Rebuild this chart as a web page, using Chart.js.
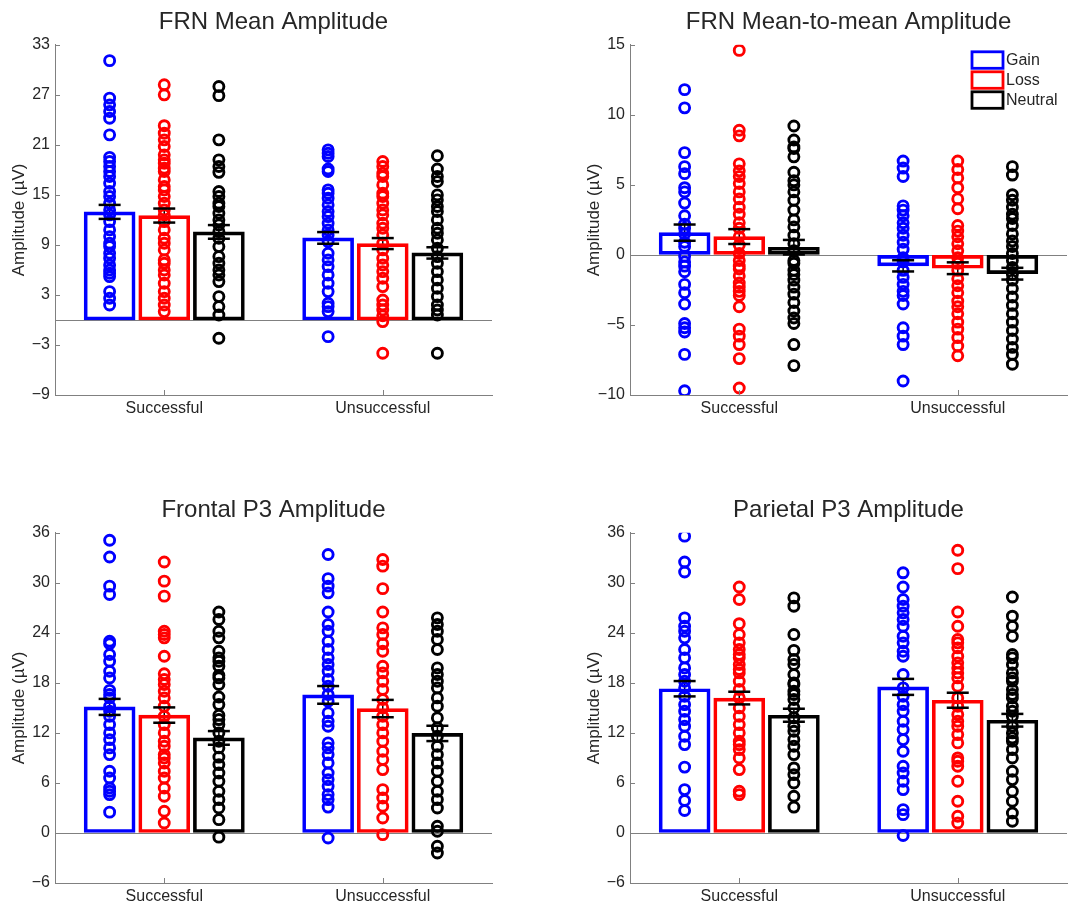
<!DOCTYPE html>
<html>
<head>
<meta charset="utf-8">
<title>FRN and P3 amplitudes</title>
<script src="https://cdn.jsdelivr.net/npm/chart.js@4.4.0/dist/chart.umd.min.js"></script>
<style>
  html, body { margin: 0; padding: 0; background: #fff; overflow: hidden; }
  #page { position: relative; width: 1077px; height: 906px; }
  #page canvas { position: absolute; }
</style>
</head>
<body>
<div id="page">
  <canvas id="frn-mean" width="500" height="418" style="left:0;top:0"></canvas>
  <canvas id="frn-m2m" width="500" height="418" style="left:575px;top:0"></canvas>
  <canvas id="p3-frontal" width="500" height="418" style="left:0;top:488px"></canvas>
  <canvas id="p3-parietal" width="500" height="418" style="left:575px;top:488px"></canvas>
</div>
<script>
"use strict";

var conditions = ['Successful', 'Unsuccessful'];
var outcomes = ['Gain', 'Loss', 'Neutral'];
var outcomeColors = ['#0000ff', '#ff0000', '#000000'];

// FRN mean amplitude: [outcome][condition]
var frnMeanTicks = [-9, -3, 3, 9, 15, 21, 27, 33];
var frnMeanAvg = [[12.96, 9.84], [12.52, 9.16], [10.56, 8.04]];
var frnMeanSem = [[0.84, 0.70], [0.84, 0.66], [0.82, 0.68]];
var frnMeanGain = [
    [31.1, 26.6, 25.8, 25.0, 24.2, 22.2, 19.5, 19.0, 18.4, 17.8, 17.2, 16.4, 15.4, 14.8, 14.0, 13.2, 12.6, 11.8, 10.8, 10.0, 9.2, 8.8, 8.0, 7.4, 6.6, 6.0, 5.6, 5.2, 3.4, 2.6, 1.8],
    [20.4, 20.0, 19.6, 18.1, 17.8, 15.6, 15.2, 14.6, 13.8, 13.0, 12.4, 11.6, 10.8, 10.2, 9.4, 8.0, 7.2, 6.4, 5.4, 4.4, 3.4, 2.0, 1.6, 1.0, -2.0]
];
var frnMeanLoss = [
    [28.2, 27.0, 23.3, 22.4, 21.6, 20.8, 19.8, 19.2, 18.8, 18.2, 17.8, 16.8, 16.0, 15.6, 14.8, 14.0, 13.2, 12.6, 11.8, 10.8, 9.8, 9.2, 8.4, 7.2, 6.8, 6.0, 5.4, 4.4, 3.4, 2.6, 1.8, 1.0],
    [19.0, 18.4, 17.6, 17.2, 16.2, 15.2, 14.8, 14.0, 13.2, 12.6, 11.6, 11.0, 10.2, 9.2, 8.4, 7.4, 6.6, 5.8, 5.0, 4.0, 2.4, 1.8, 1.2, 0.5, -0.2, -4.0]
];
var frnMeanNeutral = [
    [28.0, 26.9, 21.6, 19.2, 18.4, 17.7, 15.4, 14.8, 14.0, 13.6, 12.8, 12.0, 11.4, 10.6, 9.8, 8.8, 7.6, 6.8, 6.0, 5.4, 4.6, 2.8, 1.6, 0.6, -2.2],
    [19.7, 18.1, 17.2, 16.6, 15.0, 14.4, 13.6, 13.0, 12.0, 11.0, 10.4, 9.6, 8.6, 7.6, 6.8, 5.8, 4.8, 3.8, 2.8, 1.8, 1.2, 0.6, -4.0]
];

// FRN mean-to-mean amplitude
var frnM2mTicks = [-10, -5, 0, 5, 10, 15];
var frnM2mAvg = [[1.59, -0.78], [1.31, -0.95], [0.55, -1.34]];
var frnM2mSem = [[0.58, 0.40], [0.53, 0.42], [0.52, 0.42]];
var frnM2mGain = [
    [11.8, 10.5, 7.3, 6.3, 5.8, 4.8, 4.5, 3.7, 2.8, 2.2, 1.9, 1.5, 0.9, 0.6, -0.1, -0.5, -0.8, -1.2, -2.1, -2.7, -3.5, -4.9, -5.2, -5.5, -7.1, -9.7],
    [6.7, 6.2, 5.6, 3.5, 3.2, 2.8, 2.3, 1.9, 1.4, 0.9, 0.4, -0.2, -0.5, -1.1, -1.6, -2.1, -2.6, -2.9, -3.5, -5.2, -5.8, -6.4, -9.0]
];
var frnM2mLoss = [
    [14.6, 8.9, 8.5, 6.5, 6.0, 5.6, 5.1, 4.5, 4.0, 3.4, 2.9, 2.3, 1.9, 1.3, 0.7, 0.1, -0.4, -0.8, -1.0, -1.5, -2.0, -2.3, -2.6, -2.9, -3.7, -5.3, -5.8, -6.4, -7.4, -9.5],
    [6.7, 6.1, 5.5, 4.8, 4.0, 3.3, 2.1, 1.7, 1.3, 0.8, 0.3, -0.2, -0.6, -1.1, -1.7, -2.2, -2.7, -3.3, -3.7, -4.2, -4.8, -5.3, -5.9, -6.5, -7.2]
];
var frnM2mNeutral = [
    [9.2, 8.2, 7.7, 7.6, 7.0, 5.9, 5.3, 5.0, 4.5, 3.9, 3.2, 2.5, 2.0, 1.4, 0.8, 0.3, -0.4, -0.6, -1.1, -1.4, -1.8, -2.3, -2.8, -3.4, -4.0, -4.5, -4.9, -6.4, -7.9],
    [6.3, 5.7, 4.3, 3.9, 3.4, 2.9, 2.6, 2.1, 1.5, 1.0, 0.6, 0.1, -0.4, -0.9, -1.4, -1.8, -2.4, -3.0, -3.6, -4.2, -4.8, -5.4, -6.0, -6.6, -7.1, -7.8]
];

// Frontal P3 amplitude
var frontalTicks = [-6, 0, 6, 12, 18, 24, 30, 36];
var frontalAvg = [[15.12, 16.56], [14.14, 14.92], [11.40, 11.94]];
var frontalSem = [[0.96, 1.06], [0.92, 1.04], [0.82, 0.92]];
var frontalGain = [
    [35.1, 33.1, 29.6, 28.6, 23.0, 22.7, 21.4, 20.6, 19.4, 18.6, 17.1, 16.6, 16.2, 15.2, 14.6, 14.0, 13.0, 12.0, 11.2, 10.2, 9.4, 7.4, 6.6, 5.4, 5.0, 4.6, 2.5],
    [33.4, 30.5, 29.6, 28.8, 26.5, 25.0, 24.2, 23.0, 22.0, 21.0, 20.2, 19.4, 18.4, 17.6, 16.6, 15.8, 14.4, 13.4, 12.8, 10.8, 10.2, 9.4, 8.4, 7.2, 6.4, 5.6, 4.6, 4.0, 3.1, -0.6]
];
var frontalLoss = [
    [32.5, 30.2, 28.4, 24.2, 23.8, 23.4, 21.2, 19.1, 18.4, 17.8, 17.0, 16.2, 15.2, 14.0, 13.0, 12.0, 11.0, 10.4, 9.4, 9.0, 8.4, 7.4, 6.6, 5.4, 4.4, 2.6, 1.2],
    [32.8, 32.0, 29.3, 26.5, 24.6, 23.8, 22.7, 21.8, 20.0, 19.2, 18.2, 17.2, 16.0, 15.0, 14.0, 13.0, 12.0, 11.0, 9.8, 8.8, 7.6, 5.2, 4.2, 3.2, 1.8, -0.2]
];
var frontalNeutral = [
    [26.5, 25.6, 24.2, 23.4, 21.8, 21.0, 20.6, 20.0, 18.9, 18.6, 17.8, 16.3, 15.4, 14.1, 13.6, 13.0, 12.0, 11.0, 10.2, 9.1, 8.2, 7.2, 6.2, 5.0, 4.0, 3.0, 1.6, -0.5],
    [25.8, 25.0, 24.2, 23.2, 22.0, 19.8, 19.0, 18.2, 17.4, 16.2, 15.2, 13.8, 12.6, 11.6, 10.4, 9.4, 8.4, 7.4, 6.2, 5.0, 4.0, 3.0, 0.8, 0.2, -1.6, -2.4]
];

// Parietal P3 amplitude
var parietalTicks = [-6, 0, 6, 12, 18, 24, 30, 36];
var parietalAvg = [[17.30, 17.52], [16.18, 15.92], [14.12, 13.52]];
var parietalSem = [[0.92, 0.96], [0.76, 0.90], [0.78, 0.76]];
var parietalGain = [
    [35.6, 32.5, 31.3, 25.8, 24.8, 24.2, 23.4, 22.0, 21.0, 19.8, 19.0, 18.2, 17.4, 16.4, 15.4, 14.6, 13.6, 12.8, 11.6, 10.6, 7.9, 5.2, 3.9, 2.7],
    [31.2, 29.5, 28.0, 27.2, 26.4, 25.6, 24.8, 23.6, 22.8, 21.8, 21.2, 19.0, 17.4, 16.4, 15.4, 14.6, 13.4, 12.4, 11.2, 9.8, 8.0, 7.2, 6.2, 5.2, 2.8, 2.2, -0.3]
];
var parietalLoss = [
    [29.5, 28.0, 25.1, 23.8, 22.8, 22.0, 21.4, 21.0, 20.2, 19.6, 19.2, 18.2, 17.2, 16.2, 15.0, 14.0, 13.0, 12.0, 11.0, 10.6, 10.0, 9.0, 7.6, 5.0, 4.6],
    [33.9, 31.7, 26.5, 24.8, 23.2, 22.8, 22.2, 21.2, 20.4, 19.8, 19.2, 18.6, 17.6, 16.2, 15.2, 14.2, 13.4, 12.8, 11.8, 10.8, 9.0, 8.6, 8.0, 6.2, 3.8, 2.0, 1.2]
];
var parietalNeutral = [
    [28.2, 27.2, 23.8, 21.9, 20.8, 20.2, 19.0, 18.0, 17.8, 17.0, 16.6, 16.0, 15.0, 13.8, 12.8, 12.2, 11.2, 10.4, 9.4, 7.8, 7.0, 6.0, 4.4, 3.1],
    [28.3, 26.0, 24.8, 23.6, 21.4, 21.0, 20.2, 19.2, 18.6, 18.2, 17.2, 16.6, 16.2, 15.2, 14.6, 14.0, 12.8, 12.0, 11.4, 11.0, 10.0, 9.0, 7.4, 6.4, 5.0, 3.8, 2.4, 1.4]
];


var fontFamily = "'Liberation Sans', Arial, Helvetica, sans-serif";
var textColor = '#262626';
var axisColor = '#808080';
var barOffset = [-0.25, 0, 0.25];   // bar position inside each condition group


// Zero line, error bar stems and caps
var errorBars = {
    id: 'errorBars',
    beforeDatasetsDraw: function (chart) {
        var ctx = chart.ctx, area = chart.chartArea;
        var x = chart.scales.x, y = chart.scales.y;
        ctx.save();
        ctx.strokeStyle = axisColor;
        ctx.lineWidth = 1;
        ctx.beginPath();
        ctx.moveTo(area.left, Math.round(y.getPixelForValue(0)) + 0.5);
        ctx.lineTo(area.right, Math.round(y.getPixelForValue(0)) + 0.5);
        ctx.stroke();

        ctx.strokeStyle = '#000';
        ctx.lineWidth = 1.5;
        chart.data.datasets.forEach(function (ds) {
            if (!ds.errors) return;
            ds.data.forEach(function (pt, i) {
                var px = x.getPixelForValue(pt.x);
                ctx.beginPath();
                ctx.moveTo(px, y.getPixelForValue(pt.y + ds.errors[i]));
                ctx.lineTo(px, y.getPixelForValue(pt.y - ds.errors[i]));
                ctx.stroke();
            });
        });
        ctx.restore();
    },
    afterDatasetsDraw: function (chart) {
        var ctx = chart.ctx;
        var x = chart.scales.x, y = chart.scales.y;
        ctx.save();
        ctx.strokeStyle = '#000';
        ctx.lineWidth = 2.5;
        chart.data.datasets.forEach(function (ds) {
            if (!ds.errors) return;
            ds.data.forEach(function (pt, i) {
                var px = x.getPixelForValue(pt.x);
                [pt.y + ds.errors[i], pt.y - ds.errors[i]].forEach(function (v) {
                    var py = y.getPixelForValue(v);
                    ctx.beginPath();
                    ctx.moveTo(px - 11, py);
                    ctx.lineTo(px + 11, py);
                    ctx.stroke();
                });
            });
        });
        ctx.restore();
    }
};


// Tick marks pointing into the axes
var innerTicks = {
    id: 'innerTicks',
    afterDraw: function (chart) {
        var ctx = chart.ctx, area = chart.chartArea;
        var x = chart.scales.x, y = chart.scales.y;
        ctx.save();
        ctx.strokeStyle = axisColor;
        ctx.lineWidth = 1;
        ctx.beginPath();
        y.ticks.forEach(function (t) {
            var py = Math.round(y.getPixelForValue(t.value)) + 0.5;
            ctx.moveTo(area.left, py);
            ctx.lineTo(area.left + 5, py);
        });
        x.ticks.forEach(function (t) {
            var px = Math.round(x.getPixelForValue(t.value)) + 0.5;
            ctx.moveTo(px, area.bottom);
            ctx.lineTo(px, area.bottom - 5);
        });
        ctx.stroke();
        ctx.restore();
    }
};


// Outline-box legend in the top right corner
var boxLegend = {
    id: 'boxLegend',
    afterDraw: function (chart, args, opts) {
        if (!opts.show) return;
        var ctx = chart.ctx, area = chart.chartArea;
        var left = area.right - 95, top = area.top + 7;
        ctx.save();
        ctx.lineWidth = 2.8;
        ctx.font = '16px ' + fontFamily;
        ctx.textBaseline = 'middle';
        ctx.fillStyle = textColor;
        outcomes.forEach(function (name, i) {
            ctx.strokeStyle = outcomeColors[i];
            ctx.strokeRect(left, top + i * 20, 31, 16.5);
            ctx.fillText(name, left + 34, top + i * 20 + 9);
        });
        ctx.restore();
    }
};


function makePanel(id, title, ticks, avg, sem, points, showLegend) {
    var datasets = [];

    // Group means as outlined bars
    outcomes.forEach(function (name, s) {
        datasets.push({
            type: 'bar',
            label: name,
            order: 2,
            grouped: false,
            barThickness: 51,
            borderWidth: 3,
            borderSkipped: false,
            borderColor: outcomeColors[s],
            backgroundColor: 'rgba(0,0,0,0)',
            errors: sem[s],
            data: conditions.map(function (c, g) {
                return {x: g + 1 + barOffset[s], y: avg[s][g]};
            })
        });
    });

    // Individual subjects on top of the bars
    outcomes.forEach(function (name, s) {
        var pts = [];
        conditions.forEach(function (c, g) {
            points[s][g].forEach(function (v) {
                pts.push({x: g + 1 + barOffset[s], y: v});
            });
        });
        datasets.push({
            type: 'scatter',
            label: name + ' subjects',
            order: 1,
            data: pts,
            pointRadius: 5,
            pointHoverRadius: 5,
            pointBorderWidth: 2.9,
            borderColor: outcomeColors[s],
            pointBackgroundColor: 'rgba(0,0,0,0)'
        });
    });

    return new Chart(document.getElementById(id), {
        type: 'scatter',
        data: {datasets: datasets},
        plugins: [errorBars, innerTicks, boxLegend],
        options: {
            responsive: false,
            animation: false,
            events: [],
            layout: {padding: {left: 0, right: 8, top: 0, bottom: 0}},
            plugins: {
                legend: {display: false},
                tooltip: {enabled: false},
                boxLegend: {show: showLegend},
                title: {
                    display: true,
                    text: title,
                    fullSize: false,
                    color: textColor,
                    font: {family: fontFamily, size: 24, weight: 'normal'},
                    padding: {top: 8, bottom: 8}
                }
            },
            scales: {
                x: {
                    type: 'linear',
                    min: 0.5,
                    max: 2.5,
                    offset: false,
                    afterFit: function (scale) { scale.height = 23; },
                    afterBuildTicks: function (scale) {
                        scale.ticks = conditions.map(function (c, g) { return {value: g + 1}; });
                    },
                    grid: {drawOnChartArea: false, drawTicks: false},
                    border: {display: true, color: axisColor, width: 1},
                    ticks: {
                        autoSkip: false,
                        maxRotation: 0,
                        padding: 4,
                        color: textColor,
                        font: {family: fontFamily, size: 16},
                        callback: function (v) { return conditions[v - 1]; }
                    }
                },
                y: {
                    min: ticks[0],
                    max: ticks[ticks.length - 1],
                    afterFit: function (scale) { scale.width = 55; },
                    afterBuildTicks: function (scale) {
                        scale.ticks = ticks.map(function (v) { return {value: v}; });
                    },
                    grid: {drawOnChartArea: false, drawTicks: false},
                    border: {display: true, color: axisColor, width: 1},
                    title: {
                        display: true,
                        text: 'Amplitude (\u00b5V)',
                        color: textColor,
                        font: {family: fontFamily, size: 17},
                        padding: {top: 9, bottom: 0}
                    },
                    ticks: {
                        padding: 5,
                        color: textColor,
                        font: {family: fontFamily, size: 16},
                        callback: function (v) { return v < 0 ? '\u2212' + Math.abs(v) : String(v); }
                    }
                }
            }
        }
    });
}


makePanel('frn-mean', 'FRN Mean Amplitude', frnMeanTicks, frnMeanAvg, frnMeanSem,
    [frnMeanGain, frnMeanLoss, frnMeanNeutral], false);
makePanel('frn-m2m', 'FRN Mean-to-mean Amplitude', frnM2mTicks, frnM2mAvg, frnM2mSem,
    [frnM2mGain, frnM2mLoss, frnM2mNeutral], true);
makePanel('p3-frontal', 'Frontal P3 Amplitude', frontalTicks, frontalAvg, frontalSem,
    [frontalGain, frontalLoss, frontalNeutral], false);
makePanel('p3-parietal', 'Parietal P3 Amplitude', parietalTicks, parietalAvg, parietalSem,
    [parietalGain, parietalLoss, parietalNeutral], false);
</script>
</body>
</html>
